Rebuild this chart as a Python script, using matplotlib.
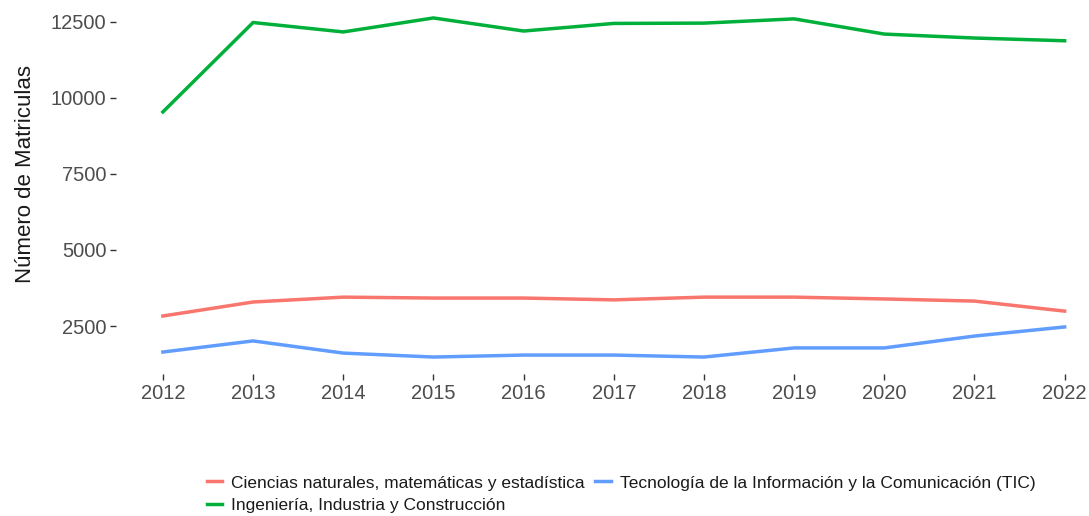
import numpy as np
import matplotlib.pyplot as plt

plt.rcParams['font.family'] = ['Liberation Sans', 'DejaVu Sans']

years = np.arange(2012, 2023)
ciencias = [2830, 3290, 3450, 3420, 3420, 3360, 3450, 3450, 3390, 3320, 2990]
ingenieria = [9540, 12480, 12170, 12630, 12200, 12450, 12460, 12600, 12100, 11970, 11880]
tic = [1645, 2010, 1610, 1480, 1545, 1545, 1480, 1780, 1780, 2170, 2470]

labels = ["Ciencias naturales, matemáticas y estadística",
          "Ingeniería, Industria y Construcción",
          "Tecnología de la Información y la Comunicación (TIC)"]
colors = ["#F8766D", "#00B03A", "#619CFF"]

W, H = 1089, 516
fig = plt.figure(figsize=(W / 100, H / 100), dpi=100)
ax = fig.add_axes([116 / W, 1 - 374 / H, 1 - 116 / W, 373 / H])

for vals, lab, col in zip([ciencias, ingenieria, tic], labels, colors):
    ax.plot(years, vals, color=col, lw=2.5, label=lab)

# ggplot style expansion
allv = np.concatenate([ciencias, ingenieria, tic])
rng = allv.max() - allv.min()
ax.set_ylim(allv.min() - 0.05 * rng, allv.max() + 0.05 * rng)
ax.set_xlim(2011.48, 2022.27)

ax.set_xticks(years)
ax.set_yticks([2500, 5000, 7500, 10000, 12500])
ax.tick_params(axis='both', length=4, width=1, color='#333333',
               labelcolor='#4D4D4D', labelsize=14.5, pad=3)
for s in ax.spines.values():
    s.set_visible(False)
ax.set_ylabel("Número de Matriculas", fontsize=16, color='#1a1a1a')
ax.yaxis.set_label_coords(-80 / (W - 116), 0.536)

ax.legend(ncol=2, frameon=False, fontsize=12.5, handlelength=0.9,
          handletextpad=0.5, columnspacing=0.6, labelspacing=0.4,
          loc='center', bbox_to_anchor=(621 / W, 1 - 494 / H),
          bbox_transform=fig.transFigure, labelcolor='#1a1a1a')

fig.savefig("out.png", dpi=100)
